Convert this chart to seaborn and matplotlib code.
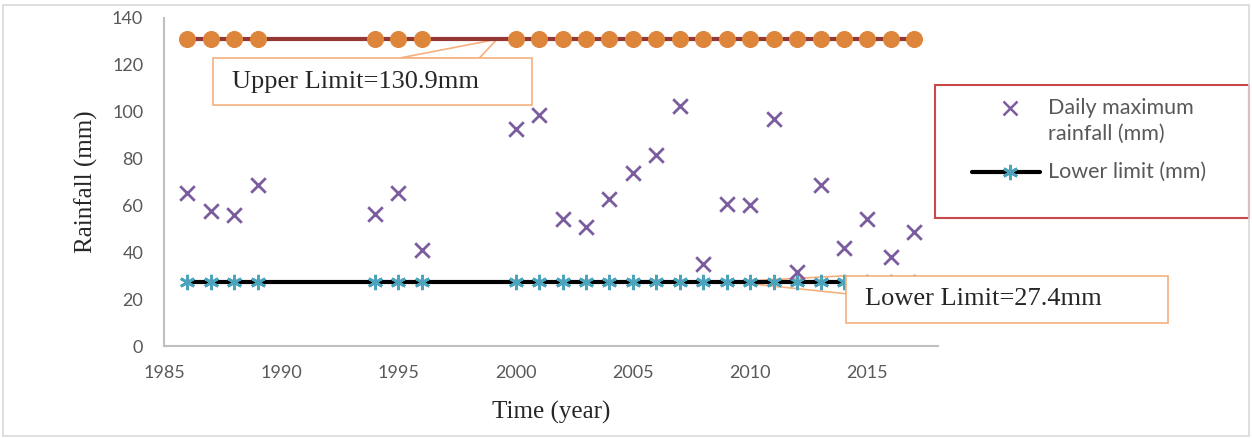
import matplotlib
matplotlib.use("Agg")
import matplotlib.pyplot as plt
from matplotlib.patches import Rectangle, Polygon
from matplotlib.lines import Line2D
import seaborn as sns
import pandas as pd

# Data
years = [1986, 1987, 1988, 1989, 1994, 1995, 1996, 2000, 2001, 2002, 2003,
         2004, 2005, 2006, 2007, 2008, 2009, 2010, 2011, 2012, 2013, 2014,
         2015, 2016, 2017]
rainfall = [65.5, 57.5, 55.8, 68.8, 56.5, 65.5, 41, 92.8, 98.8, 54.2, 51,
            62.8, 73.8, 81.5, 102.3, 35, 60.7, 60.2, 96.8, 31.8, 68.8, 42,
            54.2, 38.2, 48.6]
upper_limit = 130.9
lower_limit = 27.4
x_ticks = [1985, 1990, 1995, 2000, 2005, 2010, 2015]
y_ticks = [0, 20, 40, 60, 80, 100, 120, 140]

df = pd.DataFrame({"Year": years, "Rainfall": rainfall,
                   "Upper": [upper_limit] * len(years),
                   "Lower": [lower_limit] * len(years)})

sns.set_style("white")
plt.rcParams["font.family"] = ["Lato", "DejaVu Sans"]

purple = "#7B5C9E"
teal = "#4BA3BC"
orange = "#DE853C"
brown = "#953735"
callout = "#F5B07E"
tick_grey = "#595959"

fig = plt.figure(figsize=(12.52, 4.38), dpi=100)
ax = fig.add_axes([0.131, 0.210, 0.618, 0.749])

sns.lineplot(data=df, x="Year", y="Upper", ax=ax, color=brown, lw=3,
             marker="o", markersize=11.5, markerfacecolor=orange,
             markeredgecolor=orange, zorder=2)
sns.lineplot(data=df, x="Year", y="Lower", ax=ax, color="black", lw=3,
             marker=(6, 2, 0), markersize=11, markerfacecolor=teal,
             markeredgecolor=teal, markeredgewidth=2, zorder=2)
sns.scatterplot(data=df, x="Year", y="Rainfall", ax=ax, marker="x", s=110,
                color=purple, linewidth=2, zorder=3)

ax.set_xlim(1985, 2018)
ax.set_ylim(0, 140)
ax.set_xticks(x_ticks)
ax.set_yticks(y_ticks)
ax.tick_params(length=0, labelsize=13, labelcolor=tick_grey)
ax.tick_params(axis="x", pad=14)
ax.tick_params(axis="y", pad=15)
for s in ["top", "right"]:
    ax.spines[s].set_visible(False)
for s in ["left", "bottom"]:
    ax.spines[s].set_color("#BFBFBF")
    ax.spines[s].set_linewidth(1.5)

ax.set_xlabel("Time (year)", family="Liberation Serif", fontsize=18, labelpad=14)
ax.set_ylabel("Rainfall (mm)", family="Liberation Serif", fontsize=18, labelpad=10)


# callouts: thin wedge pointing at the limit line, then the box and its text
def callout_box(x0, x1, y0, y1, wedge_pts, tip, label):
    ax.add_patch(Polygon(wedge_pts + [tip], closed=True, fc="none",
                         ec=callout, lw=1.2, clip_on=False, zorder=1.5))
    ax.add_patch(Rectangle((x0, y0), x1 - x0, y1 - y0, fc="white",
                           ec=callout, lw=1.2, clip_on=False, zorder=6))
    ax.text(x0 + 0.8, (y0 + y1) / 2, label, ha="left", va="center",
            family="Liberation Serif", fontsize=19, zorder=7)


callout_box(1987.1, 2000.7, 102.7, 122.9,
            [(1995.05, 122.9), (1998.45, 122.9)], (1999.2, upper_limit),
            f"Upper Limit={upper_limit}mm")
callout_box(2014.1, 2027.8, 9.85, 30.0,
            [(2014.1, 30.0), (2014.1, 22.3)], (2009.2, lower_limit),
            f"Lower Limit={lower_limit}mm")

# legend, laid out like the original box (marker on the first text line)
fig.patches.append(Rectangle((0.747, 0.502), 0.251, 0.304,
                             transform=fig.transFigure, fill=False,
                             ec="#C9484A", lw=1.5))
fig.add_artist(Line2D([0.8067], [0.7534], ls="none", marker="x", color=purple,
                      markersize=10, markeredgewidth=1.8,
                      transform=fig.transFigure))
fig.add_artist(Line2D([0.7764, 0.8307], [0.6073, 0.6073], color="black", lw=3,
                      solid_capstyle="round", transform=fig.transFigure))
fig.add_artist(Line2D([0.8067], [0.6073], ls="none", marker=(6, 2, 0),
                      markersize=11, markerfacecolor=teal, markeredgecolor=teal,
                      markeredgewidth=2, transform=fig.transFigure))
fig.text(0.8371, 0.7237, "Daily maximum\nrainfall (mm)", ha="left",
         va="center", fontsize=15.5, color=tick_grey, linespacing=1.35)
fig.text(0.8371, 0.6073, "Lower limit (mm)", ha="left", va="center",
         fontsize=15.5, color=tick_grey)

# figure border
fig.patches.append(Rectangle((0.002, 0.004), 0.996, 0.985,
                             transform=fig.transFigure, fill=False,
                             ec="#D9D9D9", lw=1.2))

fig.savefig("out.png", dpi=100)
